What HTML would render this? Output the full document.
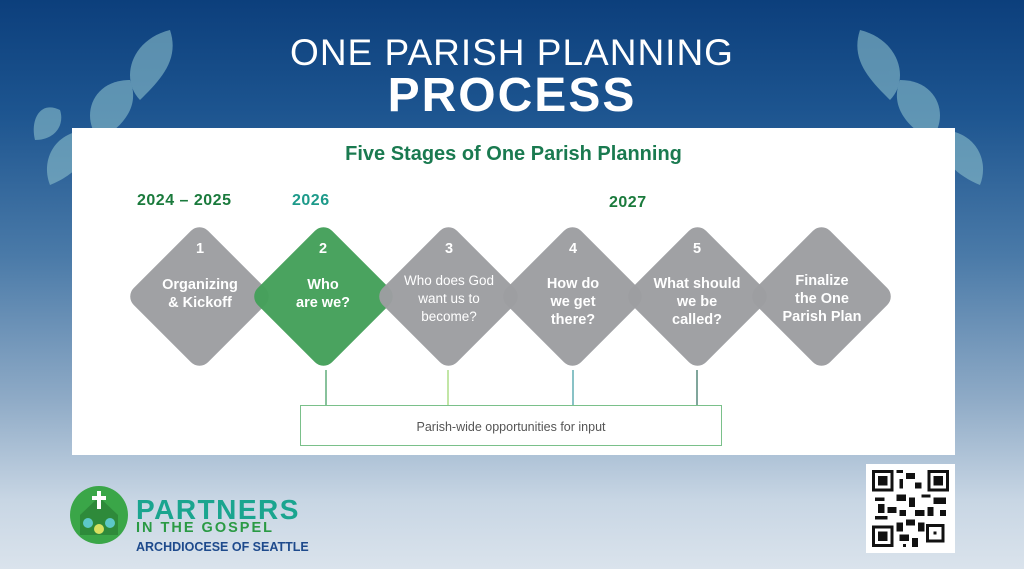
<!DOCTYPE html>
<html><head><style>
body{margin:0;width:1024px;height:569px;overflow:hidden;font-family:"Liberation Sans",sans-serif;
background:linear-gradient(180deg,#0c3f7c 0%,#1d5590 20%,#4a7aa8 45%,#8eaac6 70%,#c8d6e4 88%,#dae3ec 100%);position:relative}
.abs{position:absolute}
.t1{left:0;width:1024px;text-align:center;top:32px;color:#fff;font-size:37px;letter-spacing:1px}
.t2{left:0;width:1024px;text-align:center;top:68px;color:#fff;font-size:48px;font-weight:bold;letter-spacing:2px}
.panel{left:72px;top:128px;width:883px;height:327px;background:#fff}
.d{position:absolute;width:105px;height:105px;border-radius:12px;transform:rotate(45deg);background:#9d9ea1;opacity:.97}
.lbl{position:absolute;width:130px;text-align:center;color:#fff;font-weight:bold;font-size:14.5px;line-height:18px}
.yr{position:absolute;font-weight:bold;font-size:16px;color:#1a7a3c;letter-spacing:.5px}
</style></head><body>
<svg class="abs" style="left:30px;top:20px" width="170" height="170" viewBox="0 0 170 170">
<g fill="#8cc0cc" opacity=".6">
<path d="M140 10 C100 20 90 60 110 80 C130 60 150 40 140 10Z"/>
<path d="M100 60 C60 60 50 100 70 120 C95 105 110 85 100 60Z"/>
<path d="M60 110 C25 110 10 140 20 165 C45 155 65 135 60 110Z"/>
<path d="M30 90 C10 80 0 100 5 120 C25 120 35 105 30 90Z"/>
</g></svg>
<svg class="abs" style="left:830px;top:20px" width="170" height="170" viewBox="0 0 170 170">
<g fill="#8cc0cc" opacity=".6" transform="translate(170,0) scale(-1,1)">
<path d="M140 10 C100 20 90 60 110 80 C130 60 150 40 140 10Z"/>
<path d="M100 60 C60 60 50 100 70 120 C95 105 110 85 100 60Z"/>
<path d="M60 110 C25 110 10 140 20 165 C45 155 65 135 60 110Z"/>
</g></svg>
<div class="abs t1">ONE PARISH PLANNING</div>
<div class="abs t2">PROCESS</div>
<div class="abs panel"></div>
<div class="abs" style="left:72px;width:883px;top:143px;text-align:center;color:#1a7a50;font-weight:bold;font-size:20px">Five Stages of One Parish Planning</div>
<div class="yr" style="left:137px;top:192px">2024 – 2025</div>
<div class="yr" style="left:292px;top:192px;color:#1d9a8a">2026</div>
<div class="yr" style="left:609px;top:194px">2027</div>
<svg class="abs" style="left:0;top:0" width="1024" height="569">
<g stroke-width="1.2">
<line x1="326" y1="370" x2="326" y2="405" stroke="#3a9a5a"/>
<line x1="448" y1="370" x2="448" y2="405" stroke="#9ad46a"/>
<line x1="573" y1="370" x2="573" y2="405" stroke="#3a9aa0"/>
<line x1="697" y1="370" x2="697" y2="405" stroke="#2a6a5a"/>
</g>
<rect x="300.5" y="405.5" width="421" height="40" fill="#fff" stroke="#7ac08a"/>
<text x="511" y="431" text-anchor="middle" font-size="12.5" fill="#555" font-family="Liberation Sans">Parish-wide opportunities for input</text>
</svg>
<div class="d" style="left:147px;top:244px"></div>
<div class="d" style="left:271px;top:244px;background:#44a05a"></div>
<div class="d" style="left:396px;top:244px"></div>
<div class="d" style="left:520px;top:244px"></div>
<div class="d" style="left:645px;top:244px"></div>
<div class="d" style="left:769px;top:244px"></div>
<div class="lbl" style="left:135px;top:240px">1<br><br style="line-height:6px">Organizing<br>&amp; Kickoff</div>
<div class="lbl" style="left:258px;top:240px">2<br><br style="line-height:6px">Who<br>are we?</div>
<div class="lbl" style="left:384px;top:240px">3</div>
<div class="lbl" style="left:384px;top:272px;font-weight:normal;font-size:13.5px">Who does God<br>want us to<br>become?</div>
<div class="lbl" style="left:508px;top:240px">4</div>
<div class="lbl" style="left:508px;top:275px">How do<br>we get<br>there?</div>
<div class="lbl" style="left:632px;top:240px">5</div>
<div class="lbl" style="left:632px;top:275px">What should<br>we be<br>called?</div>
<div class="lbl" style="left:757px;top:272px">Finalize<br>the One<br>Parish Plan</div>
<svg class="abs" style="left:68px;top:485px" width="62" height="60">
<circle cx="31" cy="30" r="29" fill="#3aa648"/>
<path d="M12 30 L31 12 L50 30 L50 50 L12 50Z" fill="#2e8a3a"/>
<rect x="29" y="6" width="4" height="18" fill="#fff"/><rect x="24" y="11" width="14" height="4" fill="#fff"/>
<circle cx="20" cy="38" r="5" fill="#5cc8c8"/><circle cx="42" cy="38" r="5" fill="#5cc8c8"/><circle cx="31" cy="44" r="5" fill="#d8e060"/>
</svg>
<div class="abs" style="left:136px;top:494px;font-weight:bold;font-size:28px;color:#1aa58f;letter-spacing:1.5px">PARTNERS</div>
<div class="abs" style="left:136px;top:520px;font-weight:bold;font-size:14.5px;color:#2a9a44;letter-spacing:2px">IN THE GOSPEL</div>
<div class="abs" style="left:136px;top:540px;font-weight:bold;font-size:12.5px;color:#1e4a8c">ARCHDIOCESE OF SEATTLE</div>
<div class="abs" style="left:866px;top:464px;width:89px;height:89px;background:#fff"></div>
<svg class="abs" style="left:872px;top:470px" width="77" height="77" viewBox="0 0 25 25" shape-rendering="crispEdges">
<g fill="#111">
<path d="M0 0h7v7h-7zM1 1v5h5v-5zM2 2h3v3h-3z" fill-rule="evenodd"/>
<path d="M18 0h7v7h-7zM19 1v5h5v-5zM20 2h3v3h-3z" fill-rule="evenodd"/>
<path d="M0 18h7v7h-7zM1 19v5h5v-5zM2 20h3v3h-3z" fill-rule="evenodd"/>
<rect x="8" y="0" width="2" height="1"/><rect x="11" y="1" width="3" height="2"/><rect x="9" y="3" width="1" height="3"/><rect x="14" y="4" width="2" height="2"/>
<rect x="8" y="8" width="3" height="2"/><rect x="12" y="9" width="2" height="3"/><rect x="16" y="8" width="3" height="1"/><rect x="20" y="9" width="4" height="2"/>
<rect x="1" y="9" width="3" height="1"/><rect x="2" y="11" width="2" height="3"/><rect x="5" y="12" width="3" height="2"/><rect x="9" y="13" width="2" height="2"/>
<rect x="14" y="13" width="3" height="2"/><rect x="18" y="12" width="2" height="3"/><rect x="22" y="13" width="2" height="2"/><rect x="1" y="15" width="4" height="1"/>
<rect x="8" y="17" width="2" height="3"/><rect x="11" y="16" width="3" height="2"/><rect x="15" y="17" width="2" height="3"/><rect x="18" y="18" width="5" height="5" fill="none" stroke="#111" stroke-width="1"/>
<rect x="20" y="20" width="1" height="1"/><rect x="9" y="21" width="3" height="2"/><rect x="13" y="22" width="2" height="3"/><rect x="10" y="24" width="1" height="1"/>
</g></svg>
</body></html>
